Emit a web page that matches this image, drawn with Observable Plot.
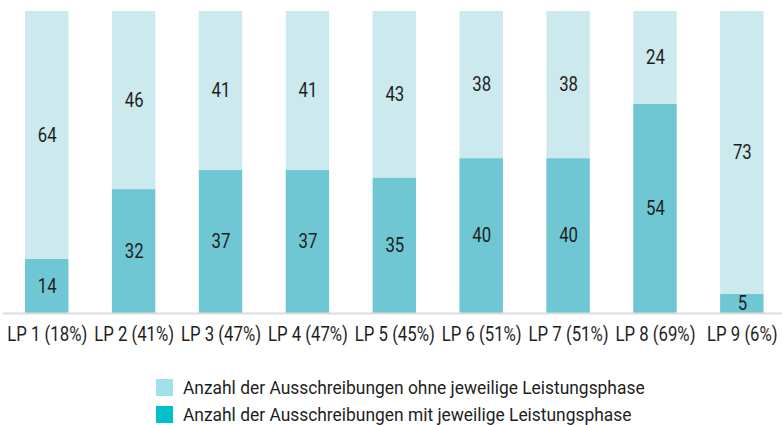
<!DOCTYPE html>
<html>
<head>
<meta charset="utf-8">
<script src="https://cdn.jsdelivr.net/npm/d3@7"></script>
<script src="https://cdn.jsdelivr.net/npm/@observablehq/plot@0.6"></script>
<style>
  html, body { margin: 0; padding: 0; background: #fff; }
  body { width: 782px; height: 425px; overflow: hidden; font-family: Roboto, sans-serif; color: #1e1e1e; }
  #legend { margin-left: 156px; margin-top: 29px; font-size: 18.5px; }
  .item { display: flex; align-items: center; height: 27px; }
  .sw { width: 17px; height: 17px; margin-right: 10px; flex: none; }
  .lab { display: inline-block; transform: scaleX(0.94); transform-origin: left center; white-space: nowrap; }
</style>
</head>
<body>
<div id="chart"></div>
<div id="legend"></div>
<script>
const categories = ["LP 1 (18%)", "LP 2 (41%)", "LP 3 (47%)", "LP 4 (47%)", "LP 5 (45%)", "LP 6 (51%)", "LP 7 (51%)", "LP 8 (69%)", "LP 9 (6%)"];
const mitValues  = [14, 32, 37, 37, 35, 40, 40, 54, 5];
const ohneValues = [64, 46, 41, 41, 43, 38, 38, 24, 73];
const seriesNames = ["Anzahl der Ausschreibungen mit jeweilige Leistungsphase", "Anzahl der Ausschreibungen ohne jeweilige Leistungsphase"];
const barColors = ["#6fc7d3", "#cce9ed"];
const legendColors = ["#00c0cc", "#a0e0e8"];

const data = [];
categories.forEach((c, i) => {
  data.push({lp: c, series: seriesNames[0], value: mitValues[i]});
  data.push({lp: c, series: seriesNames[1], value: ohneValues[i]});
});

const chart = Plot.plot({
  width: 782,
  height: 345,
  marginTop: 11,
  marginBottom: 32,
  marginLeft: 3,
  marginRight: 0,
  style: {fontFamily: 'Roboto, sans-serif', fontSize: "19.5px", color: "#1e1e1e", background: "#fff"},
  x: {domain: categories, range: [3.3, 785.3], round: false, paddingInner: 0.5, paddingOuter: 0.25, label: null, tickSize: 0, tickPadding: 14},
  y: {axis: null, domain: [0, 78]},
  color: {domain: seriesNames, range: barColors},
  marks: [
    Plot.barY(data, {x: "lp", y: "value", fill: "series", order: seriesNames}),
    Plot.ruleY([0], {stroke: "#dcdcdc", strokeWidth: 2}),
    Plot.text(data, Plot.stackY({x: "lp", y: "value", z: "series", order: seriesNames, text: "value", fill: "#1e1e1e", fontSize: 19.5}))
  ]
});
// condense glyphs horizontally (narrow typeface look)
chart.querySelectorAll("text").forEach(t => {
  const tr = t.getAttribute("transform");
  if (tr && !t.hasAttribute("x")) t.setAttribute("transform", tr + " scale(0.86,1)");
});
document.getElementById("chart").appendChild(chart);

const legend = document.getElementById("legend");
[1, 0].forEach(i => {
  const item = document.createElement("div");
  item.className = "item";
  const sw = document.createElement("div");
  sw.className = "sw";
  sw.style.background = legendColors[i];
  const label = document.createElement("span");
  label.className = "lab";
  label.textContent = seriesNames[i];
  item.appendChild(sw);
  item.appendChild(label);
  legend.appendChild(item);
});
</script>
</body>
</html>
